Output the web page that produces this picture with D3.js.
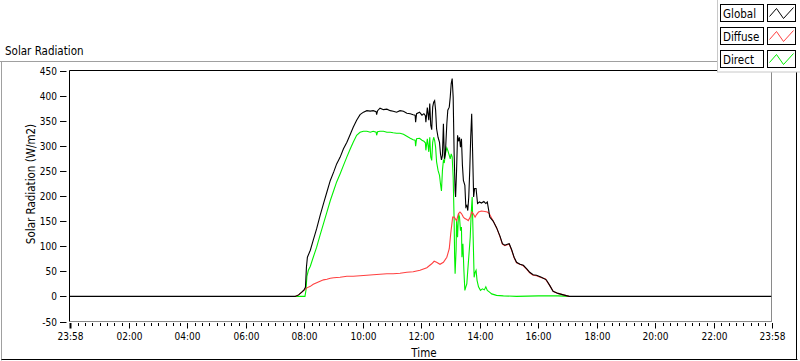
<!DOCTYPE html>
<html><head><meta charset="utf-8">
<script src="https://cdn.jsdelivr.net/npm/d3@7"></script>
<style>
html,body{margin:0;padding:0;background:#fff;}
svg{display:block;}
text{font-family:"DejaVu Sans Condensed","Liberation Sans",sans-serif;fill:#000;}
</style></head><body>
<svg id="chart" width="800" height="361"></svg>
<script>
// ---------- data ----------
const seriesNames = ["Global", "Diffuse", "Direct"];
const seriesColors = ["#000000", "#ff4040", "#00f000"];
const yTickValues = [-50, 0, 50, 100, 150, 200, 250, 300, 350, 400, 450];
const xTickLabels = ["23:58","02:00","04:00","06:00","08:00","10:00","12:00","14:00","16:00","18:00","20:00","22:00","23:58"];

const globalTimes = ["23:58","07:41","07:48","07:55","07:59","08:02","08:04","08:06","08:12","08:18","08:25","08:32","08:39","08:46","08:53","09:00","09:06","09:13","09:20","09:27","09:34","09:40","09:47","09:54","10:01","10:08","10:15","10:21","10:27","10:28","10:30","10:35","10:42","10:49","10:56","11:02","11:09","11:16","11:23","11:30","11:37","11:43","11:47","11:48","11:50","11:56","12:01","12:05","12:08","12:09","12:12","12:15","12:17","12:19","12:21","12:23","12:25","12:27","12:29","12:31","12:34","12:37","12:39","12:41","12:43","12:45","12:47","12:49","12:52","12:54","12:57","12:59","13:01","13:03","13:05","13:07","13:09","13:10","13:12","13:14","13:16","13:18","13:20","13:22","13:24","13:26","13:29","13:31","13:33","13:35","13:37","13:39","13:41","13:43","13:45","13:47","13:49","13:52","13:55","13:59","14:03","14:08","14:12","14:15","14:18","14:20","14:27","14:34","14:41","14:46","14:51","14:56","15:00","15:05","15:10","15:15","15:22","15:29","15:36","15:42","15:49","15:56","16:06","16:16","16:23","16:30","16:40","16:51","17:03","23:58"];
const globalValues = [0,0,3,9,13,18,58,78,92,112,135,161,185,208,231,248,264,277,294,307,323,337,351,362,367,370,369,370,368,362,370,375,372,373,370,369,367,370,369,365,364,362,361,347,364,367,361,364,360,347,376,351,384,341,332,377,387,390,371,334,317,307,284,272,281,344,274,284,344,371,377,397,424,434,397,284,211,198,251,321,309,317,297,314,261,231,221,178,181,171,198,251,317,364,284,198,215,215,185,188,186,189,185,188,171,158,150,137,120,105,102,104,105,93,78,68,64,62,55,48,43,42,38,33,22,10,6,3,0,0];

const diffuseTimes = ["07:41","07:48","07:55","07:59","08:02","08:05","08:12","08:18","08:25","08:32","08:39","08:46","08:53","09:00","09:13","09:27","09:40","09:54","10:08","10:21","10:35","10:49","11:02","11:16","11:30","11:43","11:57","12:11","12:21","12:26","12:31","12:38","12:45","12:52","12:57","13:00","13:04","13:07","13:12","13:16","13:19","13:22","13:26","13:29","13:33","13:36","13:40","13:43","13:46","13:50","13:53","13:57","14:03","14:10","14:15","14:19","14:27","14:34","14:41","14:46","14:51","14:56","15:00","15:05","15:10","15:15","15:22","15:29","15:36","15:42","15:49","15:56","16:06","16:14","16:16","16:23","16:30","16:40","16:51","17:03"];
const diffuseValues = [0,3,9,12,14,17,20,24,27,30,33,34,36,37,38,40,40,41,42,43,44,45,45,46,48,49,52,57,65,70,68,64,68,78,95,125,158,158,151,165,168,165,158,155,153,151,158,168,165,158,163,168,170,169,168,165,150,137,119,104,101,103,104,92,77,67,64,61,54,47,42,41,37,35,32,22,10,6,3,0];

const directTimes = ["07:41","08:01","08:03","08:05","08:08","08:12","08:18","08:25","08:32","08:39","08:46","08:53","09:00","09:06","09:13","09:20","09:27","09:34","09:40","09:47","09:54","10:01","10:08","10:15","10:21","10:27","10:28","10:30","10:35","10:42","10:49","10:56","11:02","11:09","11:16","11:23","11:30","11:37","11:43","11:47","11:48","11:50","11:56","12:01","12:05","12:08","12:09","12:12","12:15","12:17","12:19","12:21","12:23","12:25","12:27","12:29","12:31","12:34","12:37","12:39","12:41","12:43","12:45","12:47","12:49","12:52","12:54","12:57","12:59","13:01","13:03","13:05","13:07","13:08","13:09","13:11","13:12","13:14","13:16","13:18","13:20","13:22","13:23","13:25","13:27","13:29","13:31","13:33","13:35","13:37","13:40","13:42","13:44","13:46","13:48","13:50","13:52","13:54","13:57","14:01","14:05","14:09","14:12","14:15","14:19","14:24","14:34","14:48","15:15","16:00","16:40","17:03"];
const directValues = [0,0,12,40,52,60,78,98,122,145,168,191,211,228,244,261,278,294,307,321,327,329,329,327,329,327,321,328,329,329,327,327,326,325,325,323,319,315,312,311,299,314,315,311,309,306,291,314,288,317,278,271,307,317,311,297,268,251,241,224,210,251,271,268,284,296,291,281,274,284,278,238,151,78,45,92,151,118,165,158,131,138,78,105,52,12,19,25,52,78,118,165,198,118,38,48,52,32,19,12,15,13,19,12,9,5,2,1,0,1,1,0];

// ---------- helpers ----------
function toDate(s, i) {
  const [h, m] = s.split(":").map(Number);
  const day = (i === 0 && s === "23:58") ? 1 : 2;
  return new Date(2000, 0, day, h, m);
}
function pts(times, values) { return times.map((t, i) => ({ t: toDate(t, i), v: values[i] })); }

const series = [
  { name: seriesNames[0], color: seriesColors[0], data: pts(globalTimes, globalValues) },
  { name: seriesNames[1], color: seriesColors[1], data: pts(diffuseTimes, diffuseValues) },
  { name: seriesNames[2], color: seriesColors[2], data: pts(directTimes, directValues) }
];
const xTicks = xTickLabels.map((s, i) => toDate(s, i === 0 ? 0 : 1));

// ---------- layout ----------
const svg = d3.select("#chart");
const L = 69.5, R = 771.5, T = 70.5, B = 321.5;
const x = d3.scaleTime().domain([xTicks[0], xTicks[xTicks.length - 1]]).range([L, R]);
const y = d3.scaleLinear().domain([-50, 450]).range([B, T]);

// outer frame
svg.append("line").attr("x1", 0).attr("x2", 800).attr("y1", 61.5).attr("y2", 61.5).attr("stroke", "#a0a0a0");
svg.append("line").attr("x1", 1.5).attr("x2", 1.5).attr("y1", 61.5).attr("y2", 360.5).attr("stroke", "#a0a0a0");
svg.append("line").attr("x1", 1.5).attr("x2", 797.5).attr("y1", 359.5).attr("y2", 359.5).attr("stroke", "#000");
svg.append("line").attr("x1", 796.5).attr("x2", 796.5).attr("y1", 61.5).attr("y2", 360).attr("stroke", "#000");

// title
svg.append("text").attr("x", 5).attr("y", 55).attr("font-size", "11.5px").text("Solar Radiation");

// plot background and frame
svg.append("rect").attr("x", L).attr("y", T).attr("width", R - L).attr("height", B - T).attr("fill", "#fff");
svg.append("line").attr("x1", R).attr("x2", R).attr("y1", T).attr("y2", B).attr("stroke", "#8a8a8a");
svg.append("line").attr("x1", L).attr("x2", R + 0.5).attr("y1", B).attr("y2", B).attr("stroke", "#8a8a8a");
svg.append("line").attr("x1", L).attr("x2", R).attr("y1", T).attr("y2", T).attr("stroke", "#000");
svg.append("line").attr("x1", L).attr("x2", L).attr("y1", T).attr("y2", B).attr("stroke", "#000");

// clip
svg.append("clipPath").attr("id", "clip").append("rect").attr("x", L).attr("y", T).attr("width", R - L).attr("height", B - T);

// y axis ticks
const yAx = svg.append("g");
yTickValues.forEach(v => {
  const yy = Math.round(y(v)) + 0.5;
  yAx.append("line").attr("x1", 60).attr("x2", 66.5).attr("y1", yy).attr("y2", yy).attr("stroke", "#000");
  yAx.append("text").attr("x", 57).attr("y", yy).attr("dy", "0.35em").attr("text-anchor", "end")
    .attr("font-size", "10px").text(v);
});

// x axis ticks
const xAx = svg.append("g");
const minor = d3.timeMinute.every(15).range(xTicks[0], xTicks[xTicks.length - 1])
  .filter(d => !(d.getMinutes() === 0 && d.getHours() % 2 === 0) && !(d.getHours() === 0 && d.getMinutes() === 0) && d > xTicks[0]);
minor.forEach(d => {
  const xx = Math.round(x(d)) + 0.5;
  xAx.append("line").attr("x1", xx).attr("x2", xx).attr("y1", B + 1.5).attr("y2", B + 4.5).attr("stroke", "#000");
});
xTicks.forEach((d, i) => {
  const xx = Math.round(x(d)) + 0.5;
  xAx.append("line").attr("x1", xx).attr("x2", xx).attr("y1", B + 1.5).attr("y2", B + 7).attr("stroke", "#000")
    .attr("stroke-width", (i === 0) ? 2 : 1);
  xAx.append("text").attr("x", xx).attr("y", 340).attr("text-anchor", "middle").attr("font-size", "10px").text(xTickLabels[i]);
});

// axis titles
svg.append("text").attr("x", 424).attr("y", 357).attr("text-anchor", "middle").attr("font-size", "11.5px").text("Time");
svg.append("text").attr("transform", "translate(35,184) rotate(-90)").attr("text-anchor", "middle")
  .attr("font-size", "11.5px").text("Solar Radiation (W/m2)");

// lines: Direct, Diffuse, then Global on top
const line = d3.line().x(d => x(d.t)).y(d => y(d.v));
const gL = svg.append("g").attr("clip-path", "url(#clip)");
[series[2], series[1], series[0]].forEach(s => {
  gL.append("path").datum(s.data).attr("d", line).attr("fill", "none")
    .attr("stroke", s.color).attr("stroke-width", 1.1).attr("stroke-linejoin", "miter");
});

// legend
const lg = svg.append("g");
lg.append("rect").attr("x", 717.5).attr("y", -1).attr("width", 90).attr("height", 73).attr("fill", "#fff").attr("stroke", "#c8c8c8");
const zig = [[2, 12], [9, 4], [16, 14], [26, 3]];
series.forEach((s, i) => {
  const y0 = 4.5 + i * 23;
  lg.append("rect").attr("x", 720.5).attr("y", y0).attr("width", 43).attr("height", 17).attr("fill", "#fff").attr("stroke", "#000");
  lg.append("text").attr("x", 723).attr("y", y0 + 13).attr("font-size", "11.5px").text(s.name);
  lg.append("rect").attr("x", 767.5).attr("y", y0).attr("width", 28).attr("height", 17).attr("fill", "#fff").attr("stroke", "#000");
  lg.append("path").attr("d", d3.line()(zig.map(p => [767.5 + p[0], y0 + p[1]]))).attr("fill", "none")
    .attr("stroke", s.color).attr("stroke-width", 1);
});
</script>
</body></html>
